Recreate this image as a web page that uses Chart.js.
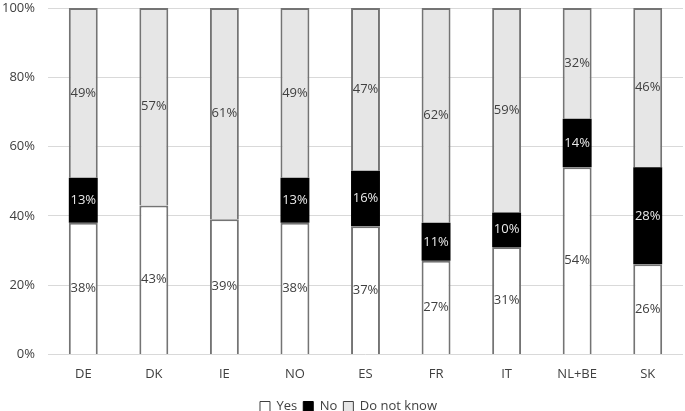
<!DOCTYPE html>
<html lang="en">
<head>
<meta charset="UTF-8">
<title>Stacked share chart</title>
<script src="https://cdn.jsdelivr.net/npm/chart.js@4/dist/chart.umd.min.js"></script>
<style>
  * { box-sizing: border-box; margin: 0; padding: 0; }
  body { background: #ffffff; width: 685px; height: 411px; overflow: hidden; }
  .wrap { position: relative; width: 685px; height: 411px; }
</style>
</head>
<body>
<div class="wrap"><canvas id="chart"></canvas></div>
<script>
const categories = ['DE', 'DK', 'IE', 'NO', 'ES', 'FR', 'IT', 'NL+BE', 'SK']
const yesValues = [38, 43, 39, 38, 37, 27, 31, 54, 26]
const noValues = [13, 0, 0, 13, 16, 11, 10, 14, 28]
const dontKnowValues = [49, 57, 61, 49, 47, 62, 59, 32, 46]
const yTicks = [0, 20, 40, 60, 80, 100]

const FONT = '"Open Sans", "DejaVu Sans", sans-serif'
const edge = '#747474'

// draws the % inside each segment, centred
const segmentLabels = {
  id: 'segmentLabels',
  afterDatasetsDraw(chart) {
    const ctx = chart.ctx
    ctx.save()
    ctx.font = '13px ' + FONT
    ctx.textAlign = 'center'
    ctx.textBaseline = 'middle'
    chart.data.datasets.forEach((ds, i) => {
      const meta = chart.getDatasetMeta(i)
      meta.data.forEach((bar, j) => {
        const v = ds.data[j]
        if (!v) return
        ctx.fillStyle = ds.labelColor
        ctx.fillText(v + '%', bar.x, (bar.y + bar.base) / 2)
      })
    })
    ctx.restore()
  }
}

// nudge legend a bit right, like the original
const legendNudge = {
  id: 'legendNudge',
  afterLayout(chart) {
    chart.legend.left += 7
    chart.legend.right += 7
  }
}

new Chart(document.getElementById('chart'), {
  type: 'bar',
  data: {
    labels: categories,
    datasets: [
      { label: 'Yes', data: yesValues, backgroundColor: '#ffffff', borderColor: edge, borderWidth: 2, labelColor: '#404040' },
      { label: 'No', data: noValues, backgroundColor: '#000000', borderColor: '#000000', borderWidth: 0, labelColor: '#e8e8e8' },
      { label: 'Do not know', data: dontKnowValues, backgroundColor: '#e6e6e6', borderColor: edge, borderWidth: 2, labelColor: '#404040' }
    ]
  },
  options: {
    responsive: true,
    maintainAspectRatio: false,
    animation: false,
    layout: { padding: { left: 0, right: 2, top: 2, bottom: -12 } },
    datasets: { bar: { barPercentage: 0.41, categoryPercentage: 1 } },
    plugins: {
      tooltip: { enabled: false },
      legend: {
        position: 'bottom',
        labels: {
          color: '#404040',
          font: { family: FONT, size: 13 },
          boxWidth: 10,
          boxHeight: 10,
          padding: 6,
          generateLabels(chart) {
            return chart.data.datasets.map((ds, i) => ({
              text: ds.label,
              fillStyle: ds.backgroundColor,
              strokeStyle: i === 1 ? '#000000' : '#404040',
              lineWidth: 1,
              datasetIndex: i,
              fontColor: '#404040'
            }))
          }
        }
      }
    },
    scales: {
      x: {
        stacked: true,
        grid: { display: false },
        border: { display: false },
        afterFit(axis) { axis.height += 8 },
        ticks: { color: '#404040', font: { family: FONT, size: 13 }, padding: 4 }
      },
      y: {
        stacked: true,
        min: 0,
        max: 100,
        afterBuildTicks(axis) { axis.ticks = yTicks.map(v => ({ value: v })) },
        afterFit(axis) { axis.width = 48; axis.paddingTop = 8 },
        grid: { color: '#d9d9d9', lineWidth: 1, drawTicks: false },
        border: { display: false },
        ticks: { color: '#404040', font: { family: FONT, size: 13 }, padding: 13, callback: v => v + '%' }
      }
    }
  },
  plugins: [segmentLabels, legendNudge]
})
</script>
</body>
</html>
